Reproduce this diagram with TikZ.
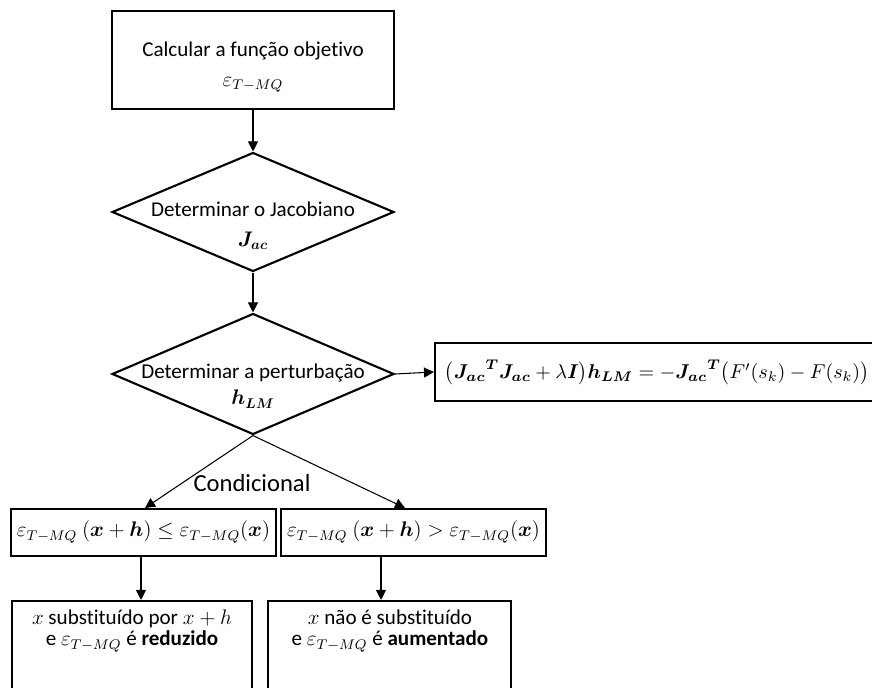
\documentclass[tikz,border=0pt]{standalone}
\usepackage{fix-cm}
\usepackage{amsmath,bm}
\usepackage{fontspec}
\setmainfont[Ligatures=NoCommon]{Carlito}
\usetikzlibrary{shapes.geometric,arrows.meta}

\begin{document}
\begin{tikzpicture}[x=0.02cm,y=-0.02cm]
  \tikzstyle{box}=[draw, line width=1.2pt, inner sep=0pt]
  \tikzstyle{decision}=[diamond, draw, line width=1.2pt, inner sep=0pt, minimum width=5.64cm]
  \tikzstyle{txt}=[align=center, inner sep=0pt, font=\fontsize{12}{15}\selectfont]
  \tikzstyle{arr}=[-{Triangle[length=0.2cm,width=0.2cm]}, line width=0.6pt]
  \useasboundingbox (0,0) rectangle (872,688);
  \node [box, minimum width=5.64cm, minimum height=1.96cm] (calc) at (253,60) {};
  \node [txt] at (253,67) {Calcular a função objetivo\\[2pt] $\varepsilon_{T-MQ}$};
  \node [decision, minimum height=2.38cm] (jac) at (253,212) {};
  \node [txt] at (253,226) {Determinar o Jacobiano\\[2pt] $\bm{J_{ac}}$};
  \node [decision, minimum height=2.42cm] (hlm) at (253,374) {};
  \node [txt] at (253,386) {Determinar a perturbação\\ $\bm{h_{LM}}$};
  \node [box, minimum width=8.78cm, minimum height=1.16cm] (eqlm) at (654.5,372) {};
  \node [txt, font=\fontsize{11.4}{14}\selectfont] at (657,373) {$\bigl({\bm{J_{ac}}}^{\bm{T}}\bm{J_{ac}}+\lambda\bm{I}\bigr)\bm{h_{LM}}=-{\bm{J_{ac}}}^{\bm{T}}\bigl(F'(s_k)-F(s_k)\bigr)$};
  \node [box, minimum width=5.3cm, minimum height=0.94cm] (condl) at (143.5,532.5) {};
  \node [txt] at (143.5,532) {$\varepsilon_{T-MQ}\ (\bm{x}+\bm{h})\leq\varepsilon_{T-MQ}(\bm{x})$};
  \node [box, minimum width=5.3cm, minimum height=0.94cm] (condr) at (413.5,532.5) {};
  \node [txt] at (413.5,532) {$\varepsilon_{T-MQ}\ (\bm{x}+\bm{h})>\varepsilon_{T-MQ}(\bm{x})$};
  \node [txt, font=\fontsize{14}{16}\selectfont] at (252,483) {Condicional};
  \node [box, minimum width=4.8cm, minimum height=1.78cm] (resl) at (132,645.5) {};
  \node [txt] at (132,631) {$x$ substituído por $x+h$\\[-3pt] e $\varepsilon_{T-MQ}$ é \textbf{reduzido}};
  \node [box, minimum width=4.86cm, minimum height=1.78cm] (resr) at (389.5,645.5) {};
  \node [txt] at (390,631) {$x$ não é substituído\\[-3pt] e $\varepsilon_{T-MQ}$ é \textbf{aumentado}};
  \draw [arr] (calc.south) -- (jac.north);
  \draw [arr] (jac.south) -- (hlm.north);
  \draw [arr] (hlm.east) -- (eqlm.west);
  \draw [arr] (hlm.south) -- ([xshift=0.03cm]condl.north);
  \draw [arr] (hlm.south) -- ([xshift=-0.17cm]condr.north);
  \draw [arr] ([xshift=-0.05cm]condl.south) -- ([xshift=-0.05cm]condl.south |- resl.north);
  \draw [arr] ([xshift=-0.65cm]condr.south) -- ([xshift=-0.65cm]condr.south |- resr.north);
\end{tikzpicture}
\end{document}
